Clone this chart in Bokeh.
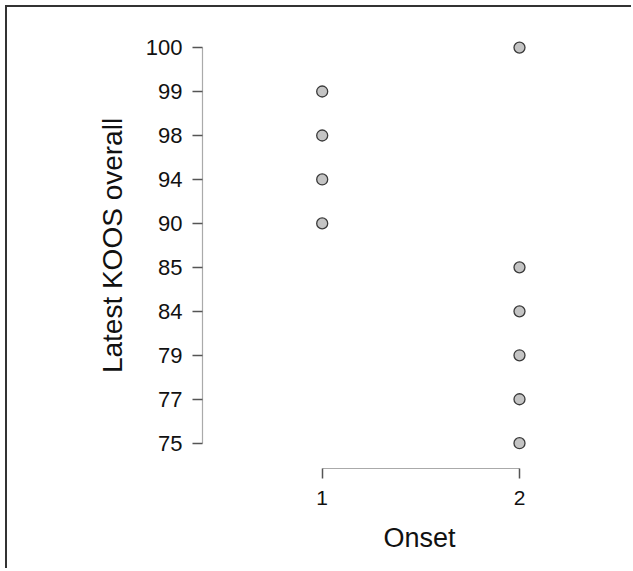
from bokeh.plotting import figure
from bokeh.models import Range1d, FixedTicker, Title, ColumnDataSource
from bokeh.embed import file_html
from bokeh.resources import INLINE

# Data
y_levels = ["75", "77", "79", "84", "85", "90", "94", "98", "99", "100"]
onset_vals = [1, 1, 1, 1, 2, 2, 2, 2, 2, 2]
koos_vals = ["99", "98", "94", "90", "100", "85", "84", "79", "77", "75"]
x_ticks = [1, 2]
x_label = "Onset"
y_label = "Latest KOOS overall"

y_pos = [y_levels.index(v) for v in koos_vals]
src = ColumnDataSource(dict(x=onset_vals, y=y_pos))

FONT = "Liberation Sans"

p = figure(width=626, height=563, output_backend="svg", toolbar_location=None,
           x_range=Range1d(0.3933, 2.441), y_range=Range1d(-0.575, 9.57),
           min_border_left=195, min_border_right=27, min_border_top=15,
           min_border_bottom=102,
           styles={"margin-left": "7px", "margin-top": "7px",
                   "box-shadow": "-2px -2px 0px 0px #333333"})
p.grid.visible = False
p.outline_line_color = None

p.scatter("x", "y", source=src, size=11, fill_color="#c4c4c4",
          line_color="#3a3a3a", line_width=1.3)

p.xaxis.ticker = FixedTicker(ticks=x_ticks)
p.xaxis.bounds = (min(x_ticks), max(x_ticks))
p.yaxis.ticker = FixedTicker(ticks=list(range(len(y_levels))))
p.yaxis.major_label_overrides = {i: s for i, s in enumerate(y_levels)}
p.yaxis.bounds = (0, len(y_levels) - 1)

for ax in (p.xaxis[0], p.yaxis[0]):
    ax.axis_line_color = "#aaaaaa"
    ax.axis_line_width = 1.2
    ax.major_tick_line_color = "#555555"
    ax.major_tick_line_width = 1.5
    ax.major_tick_out = 10
    ax.major_tick_in = 0
    ax.minor_tick_line_color = None
    ax.major_label_text_font = FONT
    ax.major_label_text_color = "#111111"

p.yaxis.major_label_standoff = 10
p.xaxis.major_label_standoff = 12
p.yaxis.major_label_text_font_size = "22px"
p.xaxis.major_label_text_font_size = "21px"

p.yaxis.axis_label = y_label
p.yaxis.axis_label_text_font = FONT
p.yaxis.axis_label_text_font_size = "28px"
p.yaxis.axis_label_text_font_style = "normal"
p.yaxis.axis_label_text_color = "#111111"
p.yaxis.axis_label_standoff = 15

xt = Title(text=x_label, align="left", offset=181, standoff=27,
           text_font=FONT, text_font_size="27px", text_font_style="normal",
           text_color="#111111")
p.add_layout(xt, "below")

open("out.html", "w").write(file_html(p, INLINE))
